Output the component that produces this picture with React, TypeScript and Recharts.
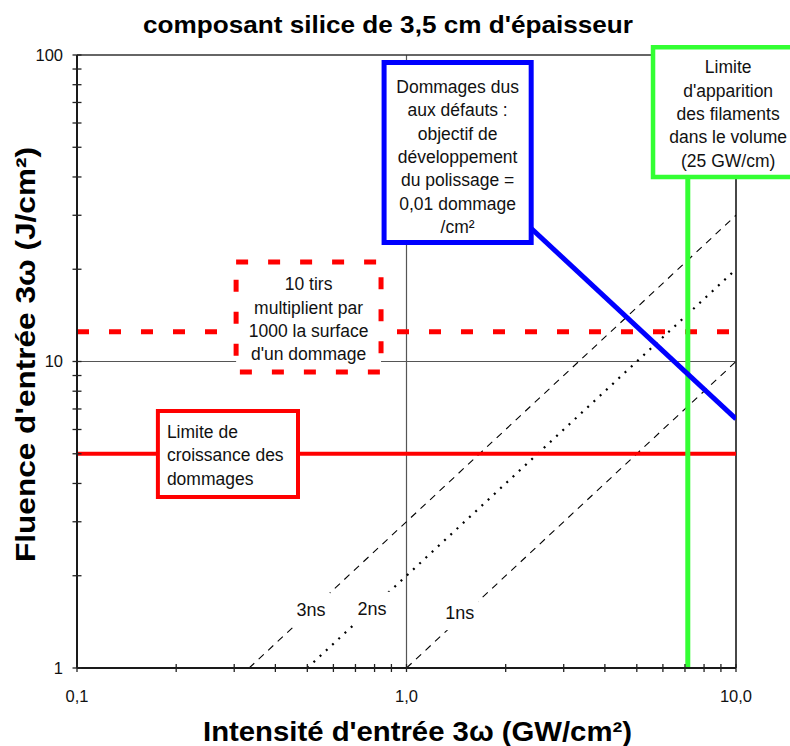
import React from "react";
import {
  ComposedChart,
  Line,
  XAxis,
  YAxis,
  ReferenceLine,
  ReferenceArea,
  ReferenceDot,
  Customized,
} from "recharts";

const FONT = "'Liberation Sans', Arial, Helvetica, sans-serif";

// axis ticks (log scales, only the decades get a label)
const xTicks = [0.1, 0.2, 0.3, 0.4, 0.5, 0.6, 0.7, 0.8, 0.9, 1, 2, 3, 4, 5, 6, 7, 8, 9, 10];
const xLabelAt = [0.1, 1, 10];
const xLabels = ["0,1", "1,0", "10,0"];
const yTicks = [1, 2, 3, 4, 5, 6, 7, 8, 9, 10, 20, 30, 40, 50, 60, 70, 80, 90, 100];
const yLabelAt = [1, 10, 100];
const yLabels = ["1", "10", "100"];

// fluence vs intensity for each pulse length
const pulse3ns = [
  { x: 0.333, y: 1 },
  { x: 10, y: 30 },
];
const pulse2ns = [
  { x: 0.5, y: 1 },
  { x: 10, y: 20 },
];
const pulse1ns = [
  { x: 1, y: 1 },
  { x: 10, y: 10 },
];
// defect damage limit (0,01 dommage/cm²)
const defectLimit = [
  { x: 1.5, y: 43.3 },
  { x: 10, y: 6.5 },
];

const growthLimit = 5; // J/cm²
const tenShotLimit = 12.5; // J/cm²
const filamentLimit = 7.14; // GW/cm² (25 GW/cm over 3,5 cm)

const pulseNames = ["3ns", "2ns", "1ns"];
const pulseNameX = [0.513, 0.786, 1.45];
const pulseNameY = [1.55, 1.56, 1.51];

const defectText = [
  "Dommages dus",
  "aux défauts :",
  "objectif de",
  "développement",
  "du polissage =",
  "0,01 dommage",
  "/cm²",
];
const filamentText = ["Limite", "d'apparition", "des filaments", "dans le volume", "(25 GW/cm)"];
const tenShotText = ["10 tirs", "multiplient par", "1000 la surface", "d'un dommage"];
const growthText = ["Limite de", "croissance des", "dommages"];

function XTick({ x, y, payload }: any) {
  const i = xLabelAt.indexOf(payload.value);
  return (
    <g>
      <line x1={x} x2={x} y1={y - 4} y2={y + 4} stroke="#222" strokeWidth={1.3} />
      {i >= 0 && (
        <text x={x} y={y + 28} dy="0.35em" textAnchor="middle" fontSize={16.5} fontFamily={FONT} fill="#111">
          {xLabels[i]}
        </text>
      )}
    </g>
  );
}

function YTick({ x, y, payload }: any) {
  const i = yLabelAt.indexOf(payload.value);
  return (
    <g>
      <line x1={x - 4.5} x2={x + 4.5} y1={y} y2={y} stroke="#222" strokeWidth={1.3} />
      {i >= 0 && (
        <text x={x - 14} y={y} dy="0.35em" textAnchor="end" fontSize={16.5} fontFamily={FONT} fill="#111">
          {yLabels[i]}
        </text>
      )}
    </g>
  );
}

// pulse-length label on a white patch that hides the line behind it
function PulseLabel({ viewBox, text }: any) {
  if (!viewBox) return null;
  const cx = viewBox.x + (viewBox.width || 0) / 2;
  const cy = viewBox.y + (viewBox.height || 0) / 2;
  return (
    <g>
      <rect x={cx - 19} y={cy - 17} width={38} height={34} fill="#fff" />
      <text x={cx} y={cy} dy="0.35em" textAnchor="middle" fontSize={18} fontFamily={FONT} fill="#111">
        {text}
      </text>
    </g>
  );
}

function BoxText({ viewBox, lines, first, align, inset }: any) {
  if (!viewBox) return null;
  const { x, y, width } = viewBox;
  const left = align === "start";
  return (
    <g>
      {lines.map((t: string, k: number) => (
        <text
          key={k}
          x={left ? x + inset : x + width / 2}
          y={y + first + k * 23.3}
          dy="0.35em"
          textAnchor={left ? "start" : "middle"}
          fontSize={17.5}
          fontFamily={FONT}
          fill="#111"
        >
          {t}
        </text>
      ))}
    </g>
  );
}

function XTitle({ viewBox }: any) {
  if (!viewBox) return null;
  return (
    <text
      x={viewBox.x + viewBox.width / 2 + 11}
      y={viewBox.y + 73}
      textAnchor="middle"
      fontSize={28}
      fontWeight="bold"
      fontFamily={FONT}
      fill="#000"
      textLength={429}
      lengthAdjust="spacingAndGlyphs"
    >
      Intensité d'entrée 3ω (GW/cm²)
    </text>
  );
}

function YTitle({ viewBox }: any) {
  if (!viewBox) return null;
  const cx = 35;
  const cy = viewBox.y + viewBox.height / 2 - 7;
  return (
    <text
      x={cx}
      y={cy}
      transform={`rotate(-90 ${cx} ${cy})`}
      textAnchor="middle"
      fontSize={28}
      fontWeight="bold"
      fontFamily={FONT}
      fill="#000"
      textLength={415}
      lengthAdjust="spacingAndGlyphs"
    >
      Fluence d'entrée 3ω (J/cm²)
    </text>
  );
}

function Title() {
  return (
    <text
      x={388}
      y={33}
      textAnchor="middle"
      fontSize={24}
      fontWeight="bold"
      fontFamily={FONT}
      fill="#000"
      textLength={490}
      lengthAdjust="spacingAndGlyphs"
    >
      composant silice de 3,5 cm d'épaisseur
    </text>
  );
}

export default function App() {
  return (
    <div style={{ position: "absolute", left: 0, top: 0, width: 790, height: 746, background: "#fff" }}>
      <ComposedChart width={790} height={746} margin={{ top: 55, right: 54, bottom: 38, left: 17 }}>
        <XAxis
          dataKey="x"
          type="number"
          scale="log"
          domain={[0.1, 10]}
          allowDataOverflow
          ticks={xTicks}
          interval={0}
          height={40}
          tickLine={false}
          tickSize={0}
          tickMargin={0}
          tick={<XTick />}
          axisLine={{ stroke: "#1a1a1a", strokeWidth: 2 }}
          label={<XTitle />}
        />
        <YAxis
          dataKey="y"
          type="number"
          scale="log"
          domain={[1, 100]}
          allowDataOverflow
          ticks={yTicks}
          interval={0}
          width={60}
          tickLine={false}
          tickSize={0}
          tickMargin={0}
          tick={<YTick />}
          axisLine={{ stroke: "#1a1a1a", strokeWidth: 2 }}
          label={<YTitle />}
        />

        {/* grid at the decades and plot frame */}
        <ReferenceLine y={10} stroke="#555" strokeWidth={1.2} />
        <ReferenceLine x={1} stroke="#555" strokeWidth={1.2} />
        <ReferenceLine y={100} stroke="#333" strokeWidth={1.6} />
        <ReferenceLine x={10} stroke="#333" strokeWidth={1.8} />

        <Line data={pulse3ns} dataKey="y" stroke="#000" strokeWidth={1.1} strokeDasharray="7 6" dot={false} activeDot={false} isAnimationActive={false} />
        <Line data={pulse2ns} dataKey="y" stroke="#000" strokeWidth={2.2} strokeDasharray="2 6.5" dot={false} activeDot={false} isAnimationActive={false} />
        <Line data={pulse1ns} dataKey="y" stroke="#000" strokeWidth={1.1} strokeDasharray="7 6" dot={false} activeDot={false} isAnimationActive={false} />

        <ReferenceLine y={tenShotLimit} stroke="#ff0000" strokeWidth={5} strokeDasharray="12 20" />
        <ReferenceLine y={growthLimit} stroke="#ff0000" strokeWidth={4} />
        <ReferenceLine x={filamentLimit} stroke="#33ff33" strokeWidth={5} />

        <Line data={defectLimit} dataKey="y" stroke="#0000ff" strokeWidth={5} dot={false} activeDot={false} isAnimationActive={false} />

        {pulseNames.map((n, i) => (
          <ReferenceDot
            key={n}
            x={pulseNameX[i]}
            y={pulseNameY[i]}
            r={0}
            fill="none"
            stroke="none"
            zIndex={650}
            label={<PulseLabel text={n} />}
          />
        ))}

        {/* annotation boxes */}
        <ReferenceArea
          x1={0.855}
          x2={2.39}
          y1={24.45}
          y2={94.5}
          fill="#fff"
          fillOpacity={1}
          stroke="#0000ff"
          strokeWidth={5}
          ifOverflow="visible"
          zIndex={700}
          label={<BoxText lines={defectText} first={24.5} />}
        />
        <ReferenceArea
          x1={5.6}
          x2={16}
          y1={40}
          y2={106}
          fill="#fff"
          fillOpacity={1}
          stroke="#33ff33"
          strokeWidth={4.5}
          ifOverflow="visible"
          zIndex={700}
          label={<BoxText lines={filamentText} first={20} />}
        />
        <ReferenceArea
          x1={0.304}
          x2={0.837}
          y1={9.24}
          y2={21.1}
          fill="#fff"
          fillOpacity={1}
          stroke="#ff0000"
          strokeWidth={5}
          strokeDasharray="12 20"
          ifOverflow="visible"
          zIndex={700}
          label={<BoxText lines={tenShotText} first={22} />}
        />
        <ReferenceArea
          x1={0.176}
          x2={0.4685}
          y1={3.61}
          y2={6.9}
          fill="#fff"
          fillOpacity={1}
          stroke="#ff0000"
          strokeWidth={4}
          ifOverflow="visible"
          zIndex={700}
          label={<BoxText lines={growthText} first={21} align="start" inset={9} />}
        />

        <Customized component={<Title />} />
      </ComposedChart>
    </div>
  );
}
